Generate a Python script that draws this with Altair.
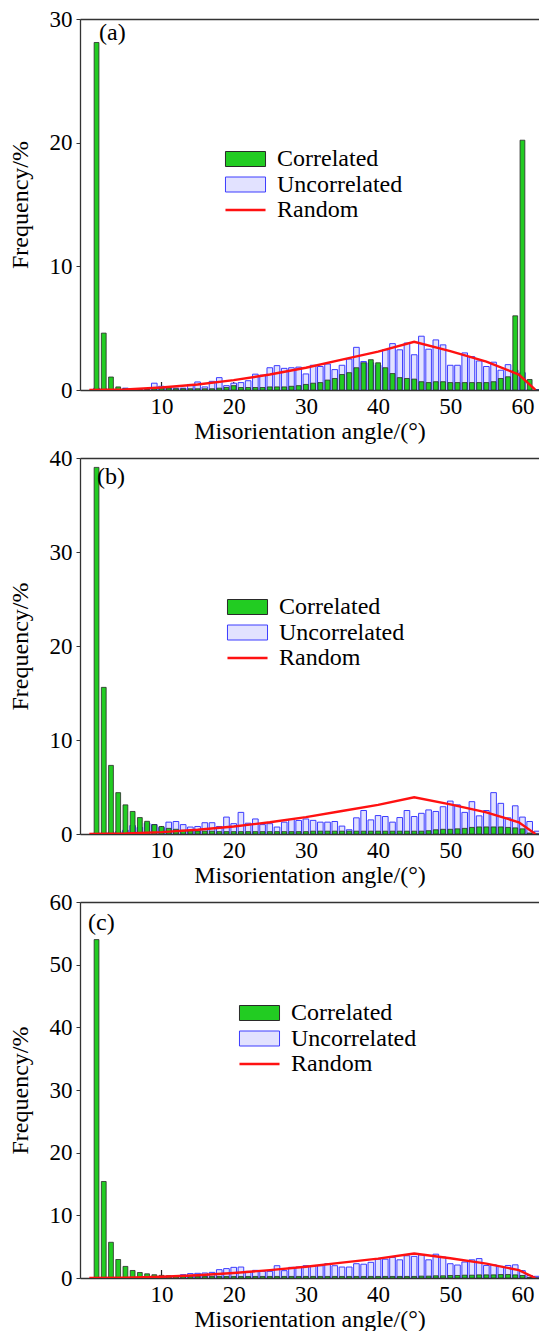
import altair as alt
import pandas as pd

# ---------------- data ----------------
ANGLES = list(range(1, 63))

CORR_A = [28.1, 4.6, 1.05, 0.25, 0.1, 0.05, 0.05, 0.05, 0.1, 0.15,
          0.15, 0.1, 0.1, 0.1, 0.1, 0.1, 0.1, 0.15, 0.2, 0.35,
          0.2, 0.2, 0.2, 0.2, 0.25, 0.25, 0.25, 0.3, 0.35, 0.45,
          0.55, 0.6, 0.8, 0.93, 1.25, 1.4, 1.8, 2.2, 2.45, 2.2,
          1.8, 1.33, 1.0, 0.93, 0.88, 0.67, 0.6, 0.67, 0.67, 0.6,
          0.6, 0.6, 0.6, 0.6, 0.6, 0.67, 0.93, 1.07, 6.0, 20.2,
          0.85, 0.0]
UNC_A = [0.15, 0.1, 0.05, 0.05, 0.15, 0.1, 0.05, 0.1, 0.55, 0.3,
         0.15, 0.15, 0.15, 0.45, 0.65, 0.25, 0.7, 1.0, 0.35, 0.55,
         0.6, 0.75, 1.28, 1.2, 1.8, 1.97, 1.75, 1.8, 1.85, 1.3,
         2.0, 1.9, 2.1, 1.65, 2.0, 2.5, 3.45, 2.3, 2.2, 2.0,
         3.25, 3.75, 3.25, 3.8, 2.85, 4.35, 3.3, 4.05, 3.65, 2.0,
         2.0, 3.0, 2.7, 2.35, 1.9, 2.25, 1.6, 2.05, 1.6, 1.4,
         0.0, 0.0]

CORR_B = [39.0, 15.6, 7.3, 4.4, 3.1, 2.4, 1.75, 1.35, 1.0, 0.8,
          0.6, 0.5, 0.4, 0.35, 0.3, 0.3, 0.3, 0.25, 0.25, 0.25,
          0.25, 0.25, 0.25, 0.25, 0.25, 0.25, 0.25, 0.25, 0.25, 0.25,
          0.3, 0.3, 0.3, 0.3, 0.3, 0.3, 0.3, 0.3, 0.3, 0.3,
          0.3, 0.3, 0.3, 0.3, 0.3, 0.3, 0.35, 0.45, 0.5, 0.5,
          0.55, 0.6, 0.7, 0.75, 0.75, 0.75, 0.75, 0.7, 0.65, 0.55,
          0.1, 0.0]
UNC_B = [0.1, 0.1, 0.2, 0.25, 0.4, 0.9, 0.7, 1.15, 1.0, 0.7,
         1.26, 1.33, 1.0, 0.74, 0.8, 1.2, 1.2, 0.8, 1.8, 1.1,
         2.3, 1.15, 1.6, 1.0, 1.1, 0.74, 1.26, 1.55, 1.44, 1.6,
         1.45, 1.26, 1.26, 1.33, 0.84, 0.45, 1.72, 2.5, 1.5, 1.96,
         1.86, 1.26, 1.75, 2.5, 1.86, 2.2, 2.56, 2.4, 2.9, 3.5,
         3.1, 2.3, 3.44, 1.93, 2.5, 4.4, 3.26, 1.72, 3.0, 1.8,
         1.33, 0.3]

CORR_C = [54.0, 15.4, 5.7, 2.95, 1.85, 1.2, 0.88, 0.67, 0.52, 0.42,
          0.35, 0.3, 0.25, 0.25, 0.25, 0.25, 0.25, 0.25, 0.25, 0.25,
          0.25, 0.25, 0.25, 0.25, 0.25, 0.25, 0.25, 0.25, 0.25, 0.25,
          0.25, 0.25, 0.25, 0.25, 0.25, 0.25, 0.25, 0.25, 0.25, 0.25,
          0.25, 0.25, 0.25, 0.25, 0.25, 0.3, 0.3, 0.35, 0.35, 0.4,
          0.4, 0.45, 0.45, 0.5, 0.5, 0.5, 0.55, 0.55, 0.5, 0.4,
          0.1, 0.0]
UNC_C = [0.05, 0.05, 0.05, 0.05, 0.05, 0.05, 0.05, 0.1, 0.1, 0.15,
         0.27, 0.37, 0.53, 0.7, 0.75, 0.8, 0.9, 1.33, 1.5, 1.7,
         1.75, 1.06, 1.22, 1.06, 1.06, 1.96, 1.17, 1.7, 1.75, 1.96,
         1.86, 1.96, 2.28, 1.96, 1.75, 1.75, 2.28, 2.2, 2.5, 3.0,
         3.0, 3.3, 2.9, 3.55, 3.45, 3.7, 2.9, 3.8, 3.35, 2.28,
         2.07, 2.55, 2.9, 3.1, 2.0, 2.1, 1.86, 2.0, 2.1, 1.17,
         0.4, 0.27]

RANDOM_X = [0, 5, 10, 15, 20, 25, 30, 35, 40, 45, 50, 55, 59.5, 61.8]
RANDOM_Y = [0.0, 0.05, 0.2, 0.45, 0.8, 1.25, 1.8, 2.45, 3.1, 3.9, 3.15, 2.3, 1.25, 0.0]

BAR_SERIES = ["Correlated", "Uncorrelated"]
LINE_SERIES = ["Random"]
PANEL_LABELS = ["(a)", "(b)", "(c)"]
Y_MAX = [30, 40, 60]
X_TICKS = [10, 20, 30, 40, 50, 60]
X_TITLE = "Misorientation angle/(°)"
Y_TITLE = "Frequency/%"

# ---------------- styling ----------------
FONT = "Liberation Serif"
W = 459
GREEN = "#22cc22"
GREEN_EDGE = "#2a2a2a"
BLUE_FILL = "#e2e2ff"
BLUE_EDGE = "#3c3cff"
RED = "#ff1111"
FRAME = "#333333"
RECT_PATH = "M-2.67,-1H2.67V1H-2.67Z"
LINE_PATH = "M-2.67,0H2.67"

xscale = alt.Scale(domain=[-0.6, 61.6], nice=False, zero=False)
fscale = alt.Scale(domain=BAR_SERIES, range=[GREEN, BLUE_FILL])
sscale = alt.Scale(domain=BAR_SERIES, range=[GREEN_EDGE, BLUE_EDGE])
rscale = alt.Scale(domain=LINE_SERIES, range=[RED])


def bar_legend(lx, ly):
    return alt.Legend(
        orient="none", legendX=lx, legendY=ly, direction="vertical", title=None,
        labelFont=FONT, labelFontSize=24, labelColor="black",
        symbolType=RECT_PATH, symbolSize=225, symbolOffset=12.5, labelOffset=19.5,
        symbolStrokeWidth=1, rowPadding=1.5)


def line_legend(lx, ly):
    return alt.Legend(
        orient="none", legendX=lx, legendY=ly, direction="vertical", title=None,
        labelFont=FONT, labelFontSize=24, labelColor="black",
        symbolType=LINE_PATH, symbolSize=225, symbolOffset=12.5, labelOffset=19.5,
        symbolStrokeWidth=2.5, rowPadding=1.5)


def panel(corr, unc, ymax, label, lx, ly, tx, ty, h):
    yaxis = alt.Axis(values=list(range(0, ymax + 1, 10)), title=Y_TITLE, grid=False,
                     tickSize=4, tickColor=FRAME, labelPadding=4, titlePadding=17,
                     domainColor=FRAME, domainWidth=1.3,
                     labelFont=FONT, labelFontSize=23, labelColor="black",
                     titleFont=FONT, titleFontSize=24, titleFontWeight="normal", titleColor="black")
    yscale = alt.Scale(domain=[0, ymax], nice=False)

    df_c = pd.DataFrame({"angle": ANGLES, "freq": corr, "series": BAR_SERIES[0]})
    df_u = pd.DataFrame({"angle": ANGLES, "freq": unc, "series": BAR_SERIES[1]})
    df_r = pd.DataFrame({"angle": RANDOM_X, "freq": RANDOM_Y, "series": LINE_SERIES[0]})
    df_t = pd.DataFrame({"t": X_TICKS})
    df_l = pd.DataFrame({"label": [label]})

    bl = bar_legend(lx, ly)

    ticks = alt.Chart(df_t).mark_rule(color="#222222", strokeWidth=1.2, y2Offset=-8).encode(
        x=alt.X("t:Q", scale=xscale, axis=alt.Axis(
            values=X_TICKS, title=X_TITLE, grid=False, ticks=False, tickSize=0,
            labelPadding=5, titlePadding=1, domainColor=FRAME, domainWidth=1.3,
            labelFont=FONT, labelFontSize=23, labelColor="black",
            titleFont=FONT, titleFontSize=24, titleFontWeight="normal", titleColor="black")),
        y=alt.YDatum(0, scale=yscale, axis=yaxis),
        y2=alt.Y2Datum(0),
    )
    blue = alt.Chart(df_u).mark_bar(width=5.6, strokeWidth=1, clip=True).encode(
        x=alt.X("angle:Q", scale=xscale, axis=None),
        y=alt.Y("freq:Q", scale=yscale, axis=yaxis),
        fill=alt.Fill("series:N", scale=fscale, legend=bl),
        stroke=alt.Stroke("series:N", scale=sscale, legend=bl),
    )
    green = alt.Chart(df_c).mark_bar(width=4.8, strokeWidth=0.8, clip=True).encode(
        x=alt.X("angle:Q", scale=xscale, axis=None),
        y=alt.Y("freq:Q", scale=yscale, axis=yaxis),
        fill=alt.Fill("series:N", scale=fscale, legend=bl),
        stroke=alt.Stroke("series:N", scale=sscale, legend=bl),
    )
    red = alt.Chart(df_r).mark_line(strokeWidth=2.4, clip=True).encode(
        x=alt.X("angle:Q", scale=xscale, axis=alt.Axis(
            orient="top", labels=False, ticks=False, title=None, grid=False,
            domainColor=FRAME, domainWidth=1.3)),
        y=alt.Y("freq:Q", scale=yscale, axis=yaxis),
        color=alt.Color("series:N", scale=rscale, legend=line_legend(lx, ly + 51)),
    )
    text = alt.Chart(df_l).mark_text(align="left", baseline="middle", font=FONT,
                                     fontSize=24, color="black").encode(
        x=alt.value(tx), y=alt.value(ty), text="label:N")

    return alt.layer(ticks, blue, green, red, text).resolve_axis(x="independent").properties(
        width=W, height=h)


pa = panel(CORR_A, UNC_A, Y_MAX[0], PANEL_LABELS[0], 141, 128, 19, 14, 371)
pb = panel(CORR_B, UNC_B, Y_MAX[1], PANEL_LABELS[1], 143, 137, 17, 19, 376)
pc = panel(CORR_C, UNC_C, Y_MAX[2], PANEL_LABELS[2], 155, 99, 8, 21, 376)

chart = alt.vconcat(pa, pb, pc, spacing=4).resolve_scale(
    fill="independent", stroke="independent", color="independent").resolve_legend(
    fill="independent", stroke="independent", color="independent").configure_view(
    stroke=None).properties(padding={"left": 0, "top": 0, "right": 0, "bottom": 0})

chart.save("out.html", embed_options={"renderer": "svg", "actions": False})
